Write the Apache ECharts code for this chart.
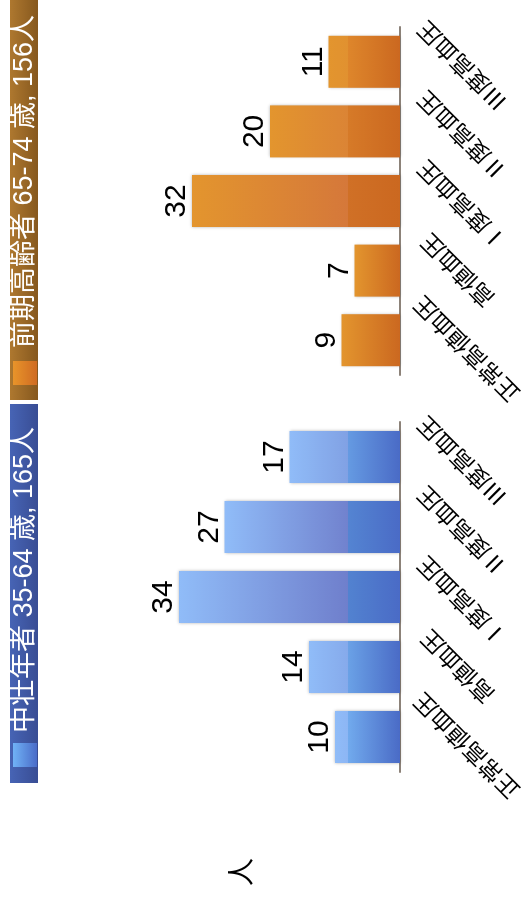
<!DOCTYPE html>
<html>
<head>
<meta charset="utf-8">
<script src="https://cdn.jsdelivr.net/npm/echarts@6/dist/echarts.min.js"></script>
<style>
html,body{margin:0;padding:0;background:#fff;overflow:hidden;width:532px;height:899px}
#chart{position:absolute;left:0;top:0;width:899px;height:532px;transform-origin:0 0;transform:translate(0,899px) rotate(-90deg);}
</style>
</head>
<body>
<div id="chart"></div>
<script>
// ---- data ----
const categories = ['正常高値血圧', '高値血圧', 'Ⅰ度高血圧', 'Ⅱ度高血圧', 'Ⅲ度高血圧'];
const middleAgedValues = [10, 14, 34, 27, 17];
const elderlyValues = [9, 7, 32, 20, 11];
const middleAgedTitle = '中壮年者 35-64 歳, 165人';
const elderlyTitle = '前期高齢者 65-74 歳, 156人';
const unitName = '人';

// ---- styling helpers ----
const valueMax = 49;
const stepValue = 8;
const latinCjk = '"Liberation Sans", "Noto Sans CJK JP", sans-serif';
const cjk = '"Noto Sans CJK JP", sans-serif';

function hexToRgb(h) {
  h = h.replace('#', '');
  return [parseInt(h.slice(0, 2), 16), parseInt(h.slice(2, 4), 16), parseInt(h.slice(4, 6), 16)];
}
function mix(a, b, t) {
  const A = hexToRgb(a), B = hexToRgb(b);
  const c = A.map((x, i) => Math.round(x + (B[i] - x) * t));
  return 'rgb(' + c.join(',') + ')';
}
function vgrad(stops) {
  return new echarts.graphic.LinearGradient(0, 0, 0, 1, stops.map(s => ({ offset: s[0], color: s[1] })));
}
const palettes = {
  blue: { light: '#90bcf8', mid: '#6f7fcc', stepLight: '#74aef0', stepDark: '#5282d0', dark: '#4a6bc6' },
  orange: { light: '#e3952e', mid: '#d5783a', stepLight: '#e08a2c', stepDark: '#d07026', dark: '#cb6820' }
};
function barColor(v, p) {
  const f = 1 - stepValue / v;
  if (f < 0.15) return vgrad([[0, p.light], [1, p.dark]]);
  const t = Math.min(1, (v - stepValue) / 20);
  return vgrad([[0, p.light], [f, mix(p.light, p.mid, t)], [f + 0.002, mix(p.stepLight, p.stepDark, t)], [1, p.dark]]);
}

// rotated labels: centred under the category, top edge hugging the axis
const catData = categories.map(c => {
  const pad = Math.max(0, c.length - 4) * 13;
  return { value: c, textStyle: { align: 'center', verticalAlign: 'middle', padding: [pad, pad, 0, 0] } };
});

function xAxisFor(i) {
  return {
    type: 'category', gridIndex: i, data: catData,
    axisLine: { show: true, lineStyle: { color: '#8c8279', width: 2 } },
    axisTick: { show: false },
    splitLine: { show: false },
    axisLabel: {
      interval: 0, rotate: 45, align: 'center', verticalAlign: 'middle', margin: 57,
      fontSize: 23, color: '#000', fontFamily: cjk, hideOverlap: false
    }
  };
}
function yAxisFor(i, withName) {
  const y = {
    type: 'value', gridIndex: i, min: 0, max: valueMax,
    axisLine: { show: false }, axisTick: { show: false },
    axisLabel: { show: false }, splitLine: { show: false }
  };
  if (withName) {
    y.name = unitName;
    y.nameLocation = 'middle';
    y.nameGap = 100;
    y.nameRotate = 0;
    y.nameTextStyle = { fontSize: 28, color: '#000', fontFamily: cjk, align: 'center', verticalAlign: 'middle' };
  }
  return y;
}
function seriesFor(i, name, values, pal) {
  return {
    type: 'bar', name: name, xAxisIndex: i, yAxisIndex: i, barWidth: 52,
    data: values.map(v => ({ value: v, itemStyle: { color: barColor(v, pal) } })),
    itemStyle: { color: vgrad([[0, pal.light], [1, pal.dark]]), shadowBlur: 3, shadowColor: 'rgba(0,0,0,0.3)' },
    label: { show: true, position: 'top', distance: 0, fontSize: 30, color: '#000', fontFamily: '"Liberation Sans", sans-serif' }
  };
}
function legendFor(name, left, iconStops, textPad) {
  return {
    data: [{ name: name, itemStyle: { color: vgrad(iconStops) } }],
    left: left, top: 11, padding: 0, icon: 'rect', itemWidth: 24, itemHeight: 24,
    selectedMode: false, z: 5,
    textStyle: { color: '#fff', fontSize: 27, fontFamily: latinCjk, lineHeight: 28, padding: [0, 0, 0, textPad] }
  };
}

const chart = echarts.init(document.getElementById('chart'), null, { renderer: 'canvas', width: 899, height: 532 });
chart.setOption({
  animation: false,
  backgroundColor: '#ffffff',
  graphic: [
    { type: 'rect', silent: true, z: 0, shape: { x: 116, y: 10, width: 379, height: 28 },
      style: { fill: vgrad([[0, '#4764b5'], [1, '#394d94']]) } },
    { type: 'rect', silent: true, z: 0, shape: { x: 499, y: 10, width: 400, height: 28 },
      style: { fill: vgrad([[0, '#ae782f'], [1, '#86581e']]) } }
  ],
  legend: [
    legendFor(middleAgedTitle, 132, [[0, '#70b2f6'], [1, '#4a6cc8']], 5),
    legendFor(elderlyTitle, 514, [[0, '#e8942a'], [1, '#cf6b22']], 8)
  ],
  grid: [
    { left: 127, width: 350, top: 81.5, height: 318.5, containLabel: false, outerBoundsMode: 'none' },
    { left: 524, width: 348, top: 81.5, height: 318.5, containLabel: false, outerBoundsMode: 'none' }
  ],
  xAxis: [xAxisFor(0), xAxisFor(1)],
  yAxis: [yAxisFor(0, true), yAxisFor(1, false)],
  series: [
    seriesFor(0, middleAgedTitle, middleAgedValues, palettes.blue),
    seriesFor(1, elderlyTitle, elderlyValues, palettes.orange)
  ]
});
</script>
</body>
</html>
